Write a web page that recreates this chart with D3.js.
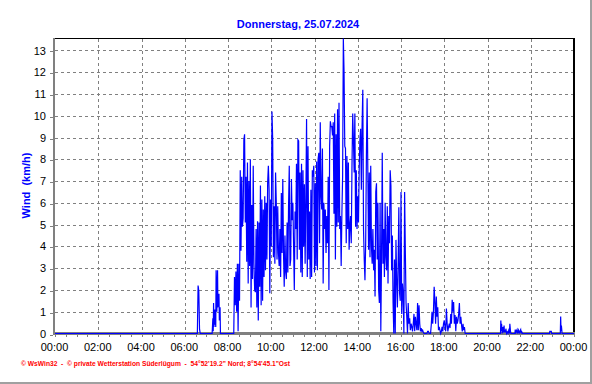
<!DOCTYPE html>
<html><head><meta charset="utf-8">
<script src="https://cdn.jsdelivr.net/npm/d3@7"></script>
<style>body{margin:0;background:#fff;} svg{display:block;}</style>
</head><body>
<script>
const title = "Donnerstag, 25.07.2024";
const yLabel = "Wind  (km/h)";
const footer = "\u00A9 WsWin32  -  \u00A9 private Wetterstation S\u00FCderl\u00FCgum  -  54\u00B052'19.2\" Nord; 8\u00B054'45.1\"Ost";
const xTickLabels = ["00:00","02:00","04:00","06:00","08:00","10:00","12:00","14:00","16:00","18:00","20:00","22:00","00:00"];
const yTickValues = [0,1,2,3,4,5,6,7,8,9,10,11,12,13];

// sparse early-morning readings
const earlyTimes = ["00:00","06:35","06:37","06:39","06:41","06:43","07:16","07:18","07:19","07:20","07:21","07:22","07:23","07:25","07:26","07:27","07:29","07:31","07:32","07:33","07:35","07:36","07:38","07:39","08:16"];
const earlyValues = [0,0,2.2,1.95,0.2,0,0,0.7,0.1,1.4,0.3,1.1,0.4,1.1,0.3,2.9,1.0,2.9,1.2,1.8,1.8,0.6,1.2,0,0];

// dense readings every 2 minutes from 08:18
const denseStart = "08:18";
const denseStepMinutes = 2;
const denseMorning = [2.6,1.3,2.85,1.0,3.2,0.1,3.2,1.5,7.5,3.8,
 7.2,4.9,5.3,8.9,9.15,5.1,7.2,3.3,7.85,2.3,
 7.0,3.1,8.0,1.2,5.9,2.5,7.7,3.2,2.0,1.9,
 4.8,1.2,5.15,0.6,5.1,2.15,6.8,1.3,6.15,1.5,
 5.7,2.6,6.3,2.9,6.0,3.4,6.9,7.7,6.6,1.85,
 6.15,4.0,10.2,8.9,3.5,5.85,3.2,7.4,6.0,3.4,
 5.85,3.7,3.1,4.8,2.6,6.45,3.7,7.1,3.7,2.15,
 4.5,2.8,2.5,5.1,2.8,5.85,7.7,3.1,3.4,7.1,
 5.2,6.0,4.0];
const denseMidday = [2.0,5.6,4.8,7.8,3.4,8.9,8.85,3.85,7.4,2.8,
 7.8,2.6,7.5,4.0,6.85,3.2,6.15,9.85,2.6,8.6,
 3.4,5.6,2.5,6.6,2.6,7.5,7.2,7.7,2.8,6.9,
 3.1,7.9,2.9,8.0,8.3,4.15,9.7,6.3,5.7,8.5,
 2.3,6.0,4.8,5.7,3.7,5.4,4.15,7.2,2.0,8.6,
 9.75,9.5,9.5,9.1,9.7,5.5,10.1,3.4,9.15,4.9,
 10.3,5.1,10.6,4.8,5.4,3.1,5.5,7.2,13.55,12.0,
 8.6,8.5,4.15,8.15,4.8,7.85,3.85,4.9,5.4,4.15,
 7.7,10.1,8.9,7.4,10.1,4.9,7.5,4.8,6.3,5.1,
 7.5,8.9,9.4,6.6,9.5,11.2,4.8,3.4,2.45,4.15,
 8.15,10.8,7.4,3.85,7.4,3.5,7.7,4.0,3.2,4.8,
 2.9,3.85,1.7,6.5,6.9,3.4,6.0,2.0,1.4,6.0,
 0.1,3.5,8.3,3.2,4.8,2.6,6.0,3.5,2.9,5.85,
 2.3,5.4,4.15,7.5,6.8,2.9,4.5,1.4];
const denseAfternoon = [0,3.4,0,4.3,2.5,1.2,3.1,5.8,1.85,1.5,
 6.5,0.9,2.3,1.8,0,6.5,3.8,1.4,0.77,0,
 1.4,0.45,0.7,0.15,0.45,0.3,0.1,0.45,0.9,0.1,
 0.77,0.45,0.15,1.4,0.15,1.3,0.45,0.1,0.25,0.1,
 0.15,0.05,0,0,0,0,0,0.1,0.1,0,
 0,0,0.4,1.0,0.45,1.0,2.15,1.45,0.45,1.7,
 0.77,1.2,0.15,0.3,0.15,0,0.1,0.3,0.1,0.45,
 0.6,0.3,0.1,1.15,0.45,0.1,0.3,0.45,0.25,0.9,
 0.45,1.55,1.0,1.45,0.45,0.85,0.1,0.77,0.45,0.6,
 0.9,1.4,0.45,0.77,0.38,0.1,0.45,0.15,0.3,0];

// sparse evening readings
const eveningTimes = ["19:00","20:36","20:37","20:38","20:39","20:41","20:43","20:44","20:46","20:47","20:49","20:50","20:51","20:53","20:55","20:57","21:00","21:01","21:02","21:04","21:05","21:16","21:17","21:18","21:20","21:22","21:23","21:26","21:28","21:30","21:32","21:33","21:35","21:37","22:52","22:53","22:57","22:58","23:22","23:23","23:24","23:25","23:27","24:00"];
const eveningValues = [0,0,0.6,0.1,0.45,0,0.3,0.05,0.37,0.05,0.15,0.05,0.22,0,0.07,0,0.22,0,0.45,0.07,0,0,0.18,0,0.12,0.18,0,0.15,0,0.12,0.18,0,0.08,0,0,0.1,0.1,0,0,0.78,0.1,0.37,0,0];

const toMin = s => { const [h,m] = s.split(":").map(Number); return h*60+m; };
const denseValues = denseMorning.concat(denseMidday, denseAfternoon);
const startMin = toMin(denseStart);
const data = []
  .concat(earlyTimes.map((t,i)=>({t:toMin(t), v:earlyValues[i]})))
  .concat(denseValues.map((v,i)=>({t:startMin + i*denseStepMinutes, v})))
  .concat(eveningTimes.map((t,i)=>({t:toMin(t), v:eveningValues[i]})));

const W = 592, H = 384;
const L = 55, R = 574, T = 38.5, B = 333.5;
const FONT = "'Liberation Sans', Arial, sans-serif";

const svg = d3.select("body").append("svg").attr("width", W).attr("height", H);
svg.append("rect").attr("width", W).attr("height", H).attr("fill", "#fff");

const x = d3.scaleLinear().domain([0, 1440]).range([L, R]);
const y = d3.scaleLinear().domain([0, d3.max(data, d => d.v)]).range([B, T]);

// outer frame (right & bottom)
svg.append("line").attr("x1", 591).attr("x2", 591).attr("y1", 0).attr("y2", 384)
  .attr("stroke", "#a0a0a0").attr("stroke-width", 2);
svg.append("line").attr("x1", 0).attr("x2", 592).attr("y1", 383).attr("y2", 383)
  .attr("stroke", "#a0a0a0").attr("stroke-width", 2);

const xLabelMinutes = xTickLabels.map((s, i) => i * 120);

// grid
const grid = svg.append("g").attr("stroke", "#808080").attr("stroke-width", 1)
  .attr("stroke-dasharray", "3,3").attr("shape-rendering", "crispEdges");
grid.selectAll(".h").data(yTickValues.filter(v => v > 0)).enter().append("line")
  .attr("x1", L).attr("x2", R).attr("y1", d => Math.round(y(d)) + 0.5).attr("y2", d => Math.round(y(d)) + 0.5);
grid.selectAll(".v").data(xLabelMinutes.slice(1, -1)).enter().append("line")
  .attr("y1", T).attr("y2", B).attr("x1", d => Math.round(x(d)) + 0.5).attr("x2", d => Math.round(x(d)) + 0.5);

// frame top/right black
svg.append("line").attr("x1", 53).attr("x2", 575).attr("y1", 38.5).attr("y2", 38.5)
  .attr("stroke", "#000").attr("stroke-width", 1).attr("shape-rendering", "crispEdges");
svg.append("line").attr("x1", 574).attr("x2", 574).attr("y1", 38).attr("y2", 335)
  .attr("stroke", "#000").attr("stroke-width", 2).attr("shape-rendering", "crispEdges");

// axes lines (gray)
svg.append("line").attr("x1", 54).attr("x2", 54).attr("y1", 38).attr("y2", 335)
  .attr("stroke", "#808080").attr("stroke-width", 2).attr("shape-rendering", "crispEdges");
svg.append("line").attr("x1", 53).attr("x2", 575).attr("y1", 333.5).attr("y2", 333.5)
  .attr("stroke", "#808080").attr("stroke-width", 3).attr("shape-rendering", "crispEdges");

// y axis ticks + labels
const yAxis = d3.axisLeft(y).tickValues(yTickValues).tickSize(3).tickPadding(4).tickFormat(d3.format("d"));
const gy = svg.append("g").attr("transform", "translate(53,0)").call(yAxis);
gy.select(".domain").remove();
gy.selectAll(".tick line").attr("stroke", "#808080").attr("shape-rendering", "crispEdges")
  .attr("transform", function(d){ return `translate(0,${Math.round(y(d)) + 0.5 - y(d)})`; });
gy.selectAll(".tick text").attr("fill", "#000").style("font-family", FONT).style("font-size", "11px");

// x axis minor ticks every 30 min
const minorTicks = d3.range(0, 1441, 30);
const gxm = svg.append("g").attr("transform", "translate(0,335)")
  .call(d3.axisBottom(x).tickValues(minorTicks).tickSize(2).tickFormat(""));
gxm.select(".domain").remove();
gxm.selectAll(".tick line").attr("stroke", "#808080").attr("shape-rendering", "crispEdges");

// x axis labels
const gx = svg.append("g").attr("transform", "translate(-1,335)")
  .call(d3.axisBottom(x).tickValues(xLabelMinutes).tickSize(0).tickPadding(8)
    .tickFormat((d, i) => xTickLabels[i]));
gx.select(".domain").remove();
gx.selectAll(".tick text").attr("fill", "#000").style("font-family", FONT).style("font-size", "11px");

// data line
const line = d3.line().x(d => x(d.t)).y(d => y(d.v));
svg.append("path").datum(data).attr("d", line).attr("fill", "none")
  .attr("stroke", "#0000ff").attr("stroke-width", 1.2).attr("stroke-linejoin", "miter");

// title
svg.append("text").attr("x", 298).attr("y", 28).attr("text-anchor", "middle")
  .attr("fill", "#0000ff").style("font-family", FONT).style("font-size", "11px").style("font-weight", "bold")
  .text(title);

// y label
svg.append("text").attr("transform", "translate(30,185.5) rotate(-90)").attr("text-anchor", "middle")
  .attr("fill", "#0000ff").style("font-family", FONT).style("font-size", "11px").style("font-weight", "bold")
  .style("white-space", "pre")
  .text(yLabel);

// footer
svg.append("text").attr("x", 21).attr("y", 366)
  .attr("fill", "#ff0000").style("font-family", FONT).style("font-size", "8px").style("font-weight", "bold")
  .style("white-space", "pre").attr("textLength", 269).attr("lengthAdjust", "spacingAndGlyphs")
  .text(footer);
</script>
</body></html>
